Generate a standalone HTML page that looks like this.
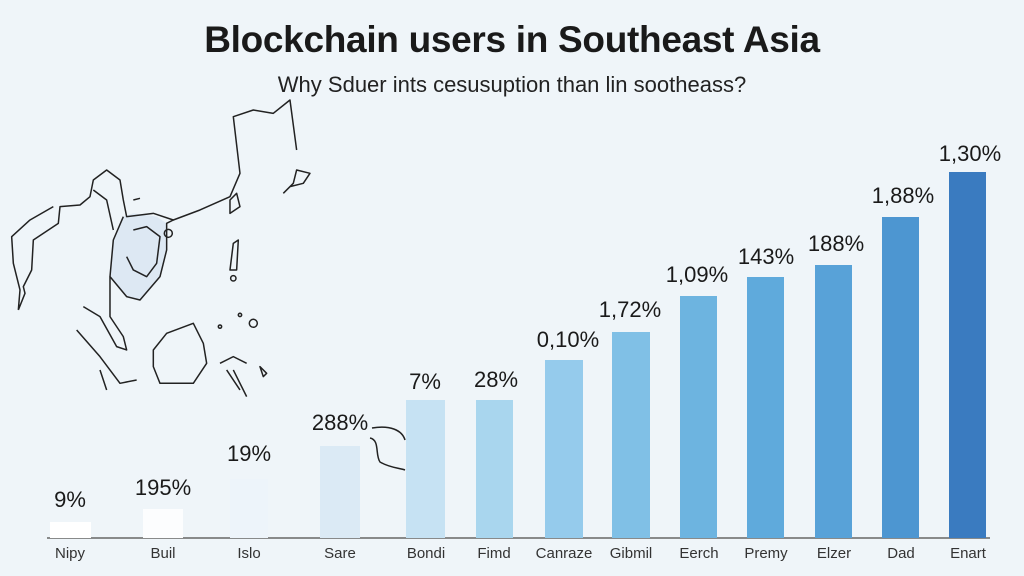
<!DOCTYPE html>
<html><head><meta charset="utf-8"><style>
html,body{margin:0;padding:0;}
body{width:1024px;height:576px;background:#eff5f9;position:relative;overflow:hidden;font-family:"Liberation Sans",sans-serif;color:#1a1a1a;}
.t{position:absolute;left:0;width:1024px;text-align:center;}
.bar{position:absolute;}
.v{position:absolute;font-size:22px;text-align:center;width:100px;}
.c{position:absolute;font-size:15px;text-align:center;width:90px;top:545px;color:#333;}
</style></head><body>
<div class="t" style="top:19px;font-size:37px;font-weight:bold;letter-spacing:-0.3px;">Blockchain users in Southeast Asia</div>
<div class="t" style="top:72px;font-size:22px;color:#222;">Why Sduer ints cesusuption than lin sootheass?</div>
<svg style="position:absolute;left:0;top:0" width="1024" height="576">
<g transform="translate(0,90) scale(0.3333)" fill="none" stroke="#222" stroke-width="4.5" stroke-linejoin="round">
<path d="M340,450 L330,560 L380,620 L420,630 L480,560 L500,480 L500,400 L470,380 L400,370 L370,380 Z" fill="#dde8f3" stroke="none"/>
<path d="M55,660 L75,610 L70,590 L95,540 L100,450 L175,400 L180,350 L240,345 L270,320 L280,270 L320,240 L360,270 L370,330 L380,380 L460,370 L520,390 L600,360 L690,320 L720,250 L700,80 L760,60 L820,70 L870,30 L890,180 M90,390 L35,440 L40,520 L60,600 L55,660 M90,390 L160,350"/>
<path d="M370,380 L340,450 L330,560 L380,620 L420,630 L480,560 L500,480 L500,400 L520,390"/>
<path d="M400,420 L440,410 L480,440 L470,520 L440,560 L400,540 L380,500"/>
<path d="M330,560 L330,680 L370,740 L380,780 L350,770 L300,680 L250,650"/>
<path d="M230,720 L300,800 L360,880 L410,870 M300,840 L320,900"/>
<path d="M460,780 L500,730 L580,700 L610,760 L620,820 L580,880 L480,880 L460,830 Z"/>
<path d="M690,330 L710,310 L720,350 L690,370 Z M700,460 L715,450 L710,540 L690,540 Z M850,310 L880,280 L890,240 L930,250 L910,280 L870,290"/>
<path d="M660,820 L700,800 L740,820 M680,840 L720,900 M700,840 L740,920 M780,830 L800,850 L790,860 Z"/>
<circle cx="505" cy="430" r="12"/><circle cx="760" cy="700" r="12"/><circle cx="660" cy="710" r="5"/><circle cx="720" cy="675" r="5"/><circle cx="700" cy="565" r="8"/>
<path d="M280,300 L320,330 L340,420 M400,330 L420,325"/>
</g>
<path d="M372,428 C390,425 402,430 405,440 M370,438 C380,440 375,455 380,462 C390,468 400,468 405,470" fill="none" stroke="#222" stroke-width="1.5"/>
<line x1="47" y1="538" x2="990" y2="538" stroke="#666" stroke-width="1.5"/>
</svg>
<div class="bar" style="left:50px;top:522px;width:41px;height:16px;background:#ffffff"></div>
<div class="bar" style="left:143px;top:509px;width:40px;height:29px;background:#fcfdfe"></div>
<div class="bar" style="left:230px;top:479px;width:38px;height:59px;background:#edf4fa"></div>
<div class="bar" style="left:320px;top:446px;width:40px;height:92px;background:#dbeaf5"></div>
<div class="bar" style="left:406px;top:400px;width:39px;height:138px;background:#c6e2f3"></div>
<div class="bar" style="left:476px;top:400px;width:37px;height:138px;background:#a9d6ee"></div>
<div class="bar" style="left:545px;top:360px;width:38px;height:178px;background:#95cbec"></div>
<div class="bar" style="left:612px;top:332px;width:38px;height:206px;background:#80c0e6"></div>
<div class="bar" style="left:680px;top:296px;width:37px;height:242px;background:#6db4e0"></div>
<div class="bar" style="left:747px;top:277px;width:37px;height:261px;background:#5faadc"></div>
<div class="bar" style="left:815px;top:265px;width:37px;height:273px;background:#58a2d8"></div>
<div class="bar" style="left:882px;top:217px;width:37px;height:321px;background:#4d96d1"></div>
<div class="bar" style="left:949px;top:172px;width:37px;height:366px;background:#3a7bc0"></div>
<div class="v" style="left:20px;top:487px">9%</div>
<div class="v" style="left:113px;top:475px">195%</div>
<div class="v" style="left:199px;top:441px">19%</div>
<div class="v" style="left:290px;top:410px">288%</div>
<div class="v" style="left:375px;top:369px">7%</div>
<div class="v" style="left:446px;top:367px">28%</div>
<div class="v" style="left:518px;top:327px">0,10%</div>
<div class="v" style="left:580px;top:297px">1,72%</div>
<div class="v" style="left:647px;top:262px">1,09%</div>
<div class="v" style="left:716px;top:244px">143%</div>
<div class="v" style="left:786px;top:231px">188%</div>
<div class="v" style="left:853px;top:183px">1,88%</div>
<div class="v" style="left:920px;top:141px">1,30%</div>
<div class="c" style="left:25px">Nipy</div>
<div class="c" style="left:118px">Buil</div>
<div class="c" style="left:204px">Islo</div>
<div class="c" style="left:295px">Sare</div>
<div class="c" style="left:381px">Bondi</div>
<div class="c" style="left:449px">Fimd</div>
<div class="c" style="left:519px">Canraze</div>
<div class="c" style="left:586px">Gibmil</div>
<div class="c" style="left:654px">Eerch</div>
<div class="c" style="left:721px">Premy</div>
<div class="c" style="left:789px">Elzer</div>
<div class="c" style="left:856px">Dad</div>
<div class="c" style="left:923px">Enart</div>
</body></html>
